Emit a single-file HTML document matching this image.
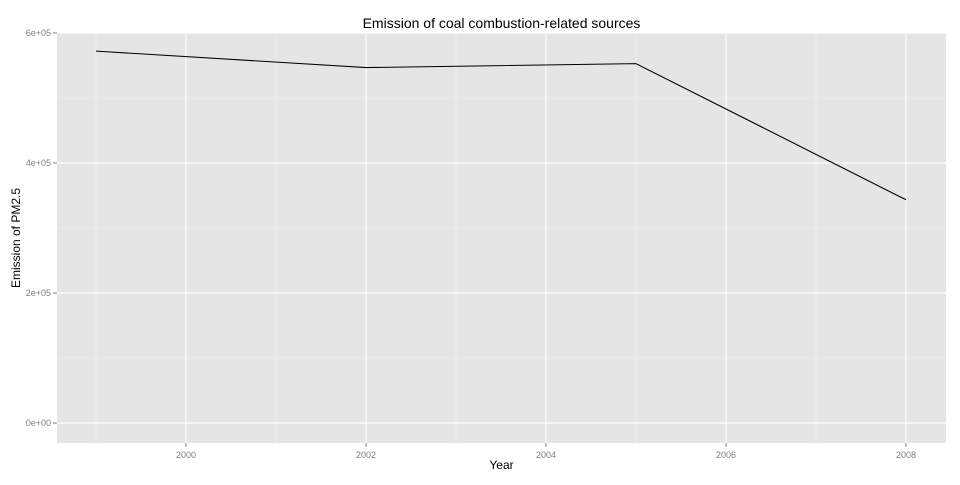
<!DOCTYPE html>
<html><head><meta charset="utf-8"><style>
body{margin:0;background:#fff;font-family:"Liberation Sans",sans-serif;}
</style></head><body>
<svg id="chart" width="960" height="480" xmlns="http://www.w3.org/2000/svg"></svg>
<script>
const years=[1999,2002,2005,2008];
const emissions=[572126,546789,552881,343432];
const xTicks=[2000,2002,2004,2006,2008];
const xMinor=[1999,2001,2003,2005,2007];
const yTicks=[0,200000,400000,600000];
const yTickLabels=["0e+00","2e+05","4e+05","6e+05"];
const yMinor=[100000,300000,500000];
const L=57,R=946,T=33,B=443;
const xs=v=>186+(v-2000)*90;
const ys=v=>423-v/200000*130;
const svg=document.getElementById('chart');
const NS='http://www.w3.org/2000/svg';
function mk(tag,attrs,parent){const e=document.createElementNS(NS,tag);for(const k in attrs)e.setAttribute(k,attrs[k]);(parent||svg).appendChild(e);return e;}
const panel=mk('rect',{x:L,y:T,width:R-L,height:B-T,fill:'#e5e5e5'});


xMinor.forEach(v=>{const l=mk('line',{x1:xs(v),x2:xs(v),y1:T,y2:B,stroke:'#f2f2f2','stroke-width':0.6});

});
yMinor.forEach(v=>{const l=mk('line',{x1:L,x2:R,y1:ys(v),y2:ys(v),stroke:'#f2f2f2','stroke-width':0.6});

});
xTicks.forEach(v=>{const l=mk('line',{x1:xs(v),x2:xs(v),y1:T,y2:B,stroke:'#fff','stroke-width':1.2});


const t=mk('line',{x1:xs(v),x2:xs(v),y1:B,y2:B+4,stroke:'#7f7f7f'});


const tx=mk('text',{x:xs(v),y:B+15,'text-anchor':'middle','font-size':9,fill:'#7f7f7f'});tx.textContent=v;

});
yTicks.forEach((v,i)=>{const l=mk('line',{x1:L,x2:R,y1:ys(v),y2:ys(v),stroke:'#fff','stroke-width':1.2});


const t=mk('line',{x1:L-4,x2:L,y1:ys(v),y2:ys(v),stroke:'#7f7f7f'});


const tx=mk('text',{x:L-6,y:ys(v)+3,'text-anchor':'end','font-size':9,fill:'#7f7f7f'});tx.textContent=yTickLabels[i];

});
const line=mk('polyline',{points:years.map((y,i)=>xs(y)+','+ys(emissions[i])).join(' '),fill:'none',stroke:'#000','stroke-width':1.1});


const title=mk('text',{x:(L+R)/2,y:28,'text-anchor':'middle','font-size':14,fill:'#000'});title.textContent='Emission of coal combustion-related sources';


const xt=mk('text',{x:(L+R)/2,y:469,'text-anchor':'middle','font-size':12,fill:'#000'});xt.textContent='Year';


const yt=mk('text',{x:0,y:0,'text-anchor':'middle','font-size':12,fill:'#000',transform:'translate(20,238) rotate(-90)'});yt.textContent='Emission of PM2.5';


</script>
</body></html>
